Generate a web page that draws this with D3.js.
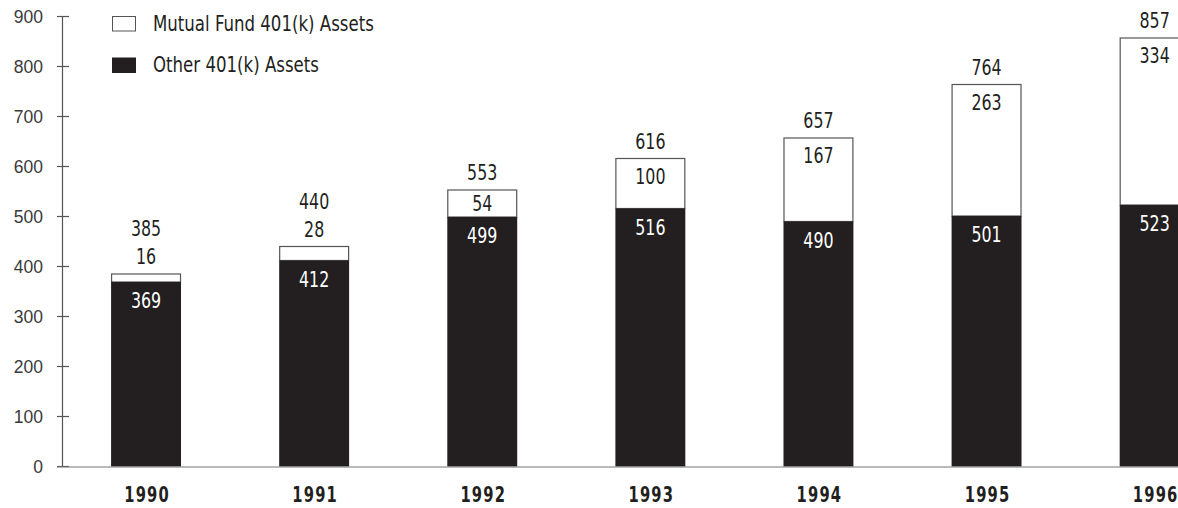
<!DOCTYPE html>
<html>
<head>
<meta charset="utf-8">
<script src="https://cdn.jsdelivr.net/npm/d3@7"></script>
<style>
  body { margin: 0; background: #fff; }
  text { font-family: "DejaVu Sans Condensed", "Liberation Sans Narrow", sans-serif; }
</style>
</head>
<body>
<div id="chart"></div>
<script>
const years = ['1990', '1991', '1992', '1993', '1994', '1995', '1996']
const mutualAssets = [16, 28, 54, 100, 167, 263, 334]
const otherAssets = [369, 412, 499, 516, 490, 501, 523]
const totalAssets = [385, 440, 553, 616, 657, 764, 857]
const yTicks = [0, 100, 200, 300, 400, 500, 600, 700, 800, 900]
const legendLabels = ['Mutual Fund 401(k) Assets', 'Other 401(k) Assets']

const width = 1178
const height = 508
const dark = '#231f20'

const svg = d3.select('#chart')
    .append('svg')
    .attr('width', width)
    .attr('height', height)

const x = d3.scaleBand()
    .domain(years)
    .range([62, 62 + 7 * 168.1])
    .paddingInner(0.584)
    .paddingOuter(0.292)

const y = d3.scaleLinear()
    .domain([0, 900])
    .range([466.5, 16.5])

const cx = d => x(d) + x.bandwidth() / 2

// y axis
svg.append('line')
    .attr('x1', 62.5).attr('x2', 62.5)
    .attr('y1', y(900)).attr('y2', y(0))
    .attr('stroke', '#555').attr('stroke-width', 1.2)

svg.selectAll('.ytick')
    .data(yTicks)
    .enter()
    .append('line')
        .attr('x1', 57).attr('x2', 69)
        .attr('y1', d => y(d)).attr('y2', d => y(d))
        .attr('stroke', '#555').attr('stroke-width', 1.2)

svg.selectAll('.ylabel')
    .data(yTicks)
    .enter()
    .append('text')
        .attr('x', 43)
        .attr('y', d => y(d) + 6.3)
        .attr('text-anchor', 'end')
        .style('font-family', '"Liberation Sans", Arial, sans-serif')
        .style('font-size', '17.5px')
        .attr('fill', '#3a3a3a')
        .text(d => d)

// bars
const rows = years.map((yr, i) => ({
    year: yr, other: otherAssets[i], mutual: mutualAssets[i], total: totalAssets[i]
}))

const g = svg.append('g')

g.selectAll('.mutual')
    .data(rows)
    .enter()
    .append('rect')
        .attr('x', d => x(d.year) + 0.5)
        .attr('y', d => y(d.other + d.mutual))
        .attr('width', x.bandwidth() - 1)
        .attr('height', d => y(d.other) - y(d.other + d.mutual))
        .attr('fill', '#fff')
        .attr('stroke', '#555')
        .attr('stroke-width', 1.2)

g.selectAll('.other')
    .data(rows)
    .enter()
    .append('rect')
        .attr('x', d => x(d.year))
        .attr('y', d => y(d.other))
        .attr('width', x.bandwidth())
        .attr('height', d => y(0) - y(d.other))
        .attr('fill', dark)

// x axis baseline
svg.append('line')
    .attr('x1', 57).attr('x2', width)
    .attr('y1', y(0) + 0.5).attr('y2', y(0) + 0.5)
    .attr('stroke', '#777').attr('stroke-width', 1.2)

// value labels (condensed by a horizontal squeeze)
const fs = '20.5px'
const sq = 0.86
const small = d => (y(d.other) - y(d.other + d.mutual)) < 24

const addLabels = (cls, yPos, fill, value) => {
    g.selectAll('.' + cls)
        .data(rows)
        .enter()
        .append('text')
            .attr('transform', d => `translate(${cx(d.year)}, ${yPos(d)}) scale(${sq}, 1)`)
            .attr('text-anchor', 'middle')
            .style('font-size', fs)
            .attr('fill', fill)
            .text(value)
}

addLabels('otherLabel', d => y(d.other) + 26, '#fff', d => d.other)
addLabels('mutualLabel', d => small(d) ? y(d.total) - 10 : Math.min(y(d.total) + 25, (y(d.total) + y(d.other)) / 2 + 7.5), dark, d => d.mutual)
addLabels('totalLabel', d => small(d) ? y(d.total) - 38 : y(d.total) - 10, dark, d => d.total)

// year labels
svg.selectAll('.year')
    .data(years)
    .enter()
    .append('text')
        .attr('transform', d => `translate(${cx(d) + 1}, 502) scale(0.78, 1)`)
        .attr('text-anchor', 'middle')
        .style('font-size', '21px')
        .style('font-weight', 'bold')
        .style('letter-spacing', '1.5px')
        .attr('fill', dark)
        .text(d => d)

// legend
const legend = svg.selectAll('.legend')
    .data(legendLabels)
    .enter()
    .append('g')
        .attr('transform', (d, i) => `translate(112, ${16 + i * 41.5})`)

legend.append('rect')
    .attr('x', 0.5).attr('y', 0.5)
    .attr('width', 23).attr('height', 14.5)
    .attr('fill', (d, i) => i === 0 ? '#fff' : dark)
    .attr('stroke', (d, i) => i === 0 ? '#555' : dark)
    .attr('stroke-width', 1)

legend.append('text')
    .attr('transform', 'translate(41, 14.5) scale(0.9, 1)')
    .style('font-size', '20.5px')
    .attr('fill', dark)
    .text(d => d)
</script>
</body>
</html>
